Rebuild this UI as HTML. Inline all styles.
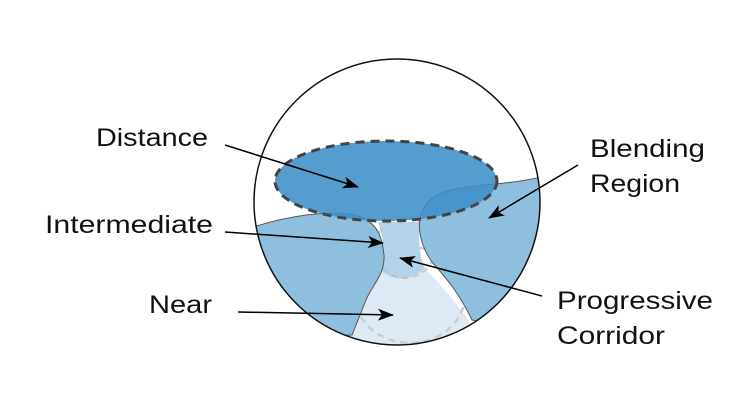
<!DOCTYPE html>
<html><head><style>html,body{margin:0;padding:0;background:#fff}</style></head>
<body>
<svg width="750" height="405" viewBox="0 0 750 405" xmlns="http://www.w3.org/2000/svg" font-family="Liberation Sans, sans-serif" font-size="25">
<defs>
<marker id="a" markerWidth="16" markerHeight="12" refX="15" refY="6" orient="auto" markerUnits="userSpaceOnUse" viewBox="0 0 16 12"><path d="M0,0 L16,6 L0,12 L4,6 Z" fill="#000"/></marker>
<clipPath id="c"><circle cx="397" cy="202" r="143"/></clipPath>
</defs>
<g clip-path="url(#c)">
<path d="M378,268 C395,262 410,262 425,268 C440,285 455,300 475,330 L470,360 L340,360 L352,330 C360,305 370,285 378,268 Z" fill="#dde9f4"/>
<ellipse cx="410" cy="295" rx="55" ry="48" fill="none" stroke="#ccc" stroke-width="2.5" stroke-dasharray="7,5"/>
<path d="M378,222 L420,222 C418,240 420,260 425,268 C410,282 392,282 378,268 C383,255 385,240 378,222 Z" fill="#b4d2ea"/>
<circle cx="405" cy="248" r="30" fill="none" stroke="#bbb" stroke-width="2" stroke-dasharray="6,5" opacity="0.7"/>
<path d="M250,228 C290,215 330,210 355,215 C380,222 382,240 384,255 C385,275 372,285 366,300 L352,335 L240,340 Z" fill="#8fbfdf" stroke="#555" stroke-width="1"/>
<path d="M545,176 C500,188 450,182 430,200 C412,218 420,245 432,262 C448,280 460,295 472,320 L545,330 Z" fill="#8fbfdf" stroke="#555" stroke-width="1"/>
</g>
<ellipse cx="386" cy="181" rx="111" ry="40" fill="#3d8fc8" fill-opacity="0.88" stroke="#444" stroke-width="3" stroke-dasharray="9,6"/>
<circle cx="397" cy="202" r="143" fill="none" stroke="#111" stroke-width="1.5"/>
<g stroke="#000" stroke-width="1.5" marker-end="url(#a)">
<line x1="225" y1="145" x2="358" y2="187"/>
<line x1="225" y1="232" x2="383" y2="243"/>
<line x1="238" y1="312" x2="393" y2="315"/>
<line x1="578" y1="165" x2="489" y2="218"/>
<line x1="542" y1="296" x2="400" y2="258"/>
</g>
<g fill="#111">
<text x="96" y="146" textLength="112" lengthAdjust="spacingAndGlyphs">Distance</text>
<text x="45" y="233" textLength="168" lengthAdjust="spacingAndGlyphs">Intermediate</text>
<text x="149" y="313" textLength="63" lengthAdjust="spacingAndGlyphs">Near</text>
<text x="590" y="157" textLength="115" lengthAdjust="spacingAndGlyphs">Blending</text>
<text x="590" y="192" textLength="90" lengthAdjust="spacingAndGlyphs">Region</text>
<text x="557" y="309" textLength="156" lengthAdjust="spacingAndGlyphs">Progressive</text>
<text x="557" y="344" textLength="108" lengthAdjust="spacingAndGlyphs">Corridor</text>
</g>
</svg>
</body></html>
